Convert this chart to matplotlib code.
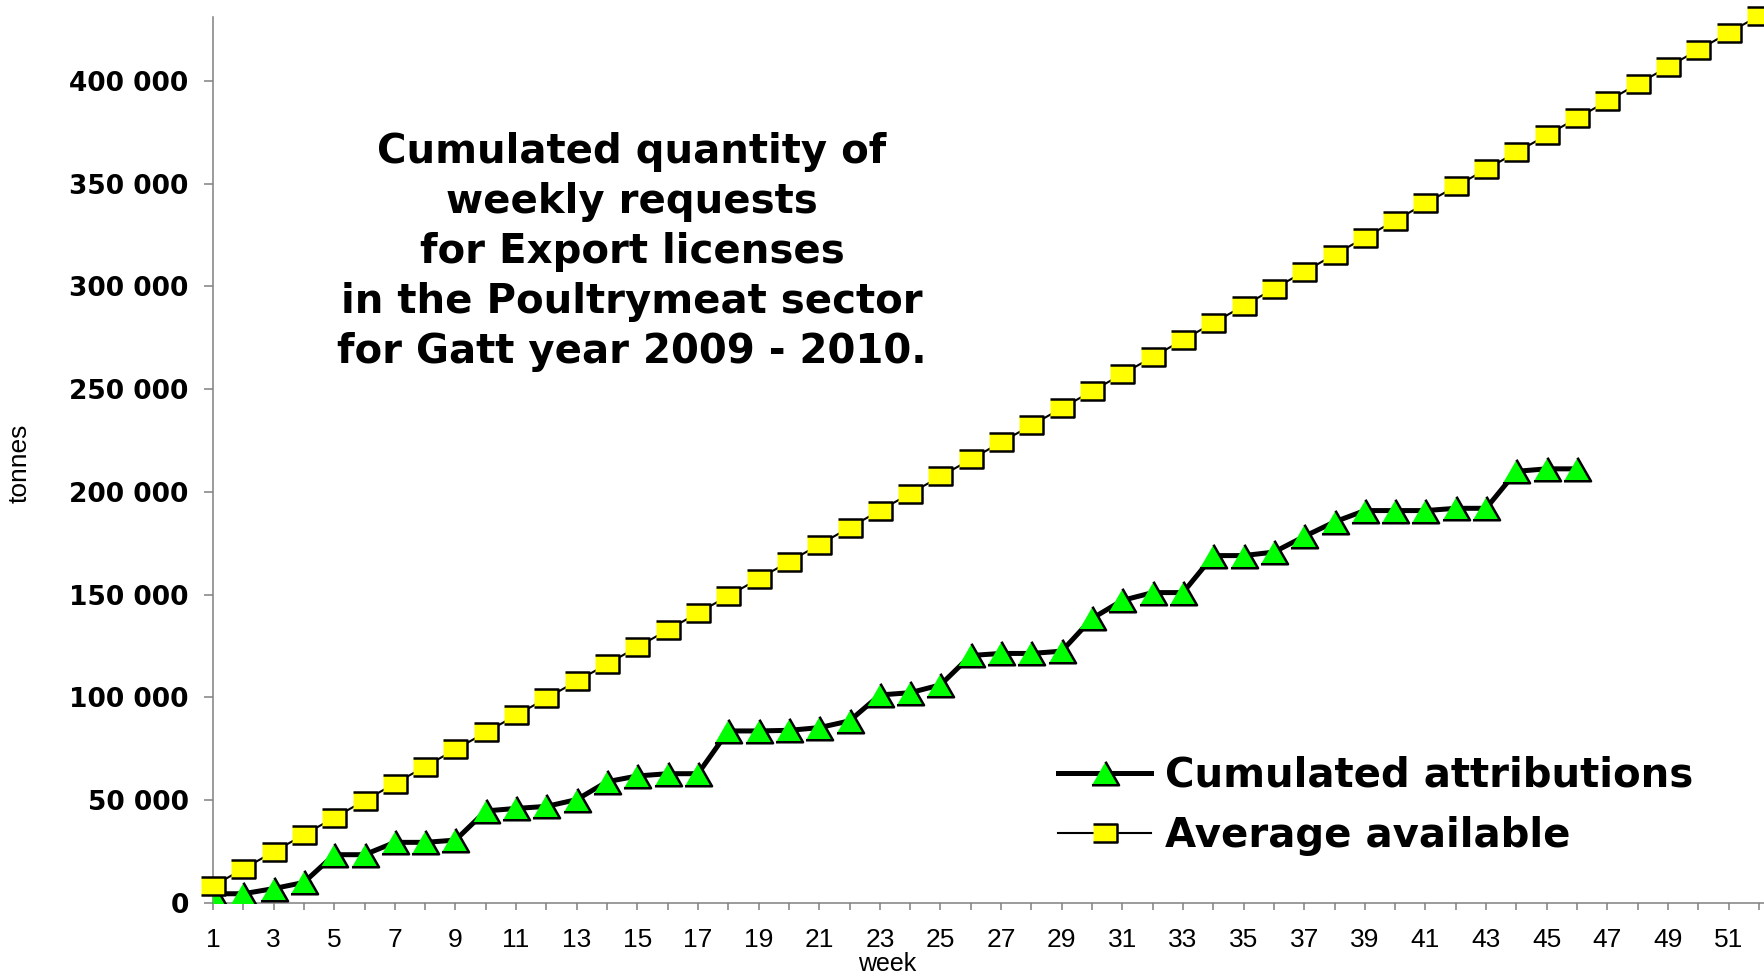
import matplotlib
matplotlib.use("Agg")
import matplotlib.pyplot as plt

weeks = list(range(1, 53))

# cumulated attributions (tonnes), weeks 1-46
attributions = [4500, 4500, 7000, 10000, 23500, 23500, 29500, 29500, 30600, 44800,
                46000, 47000, 50300, 59000, 61800, 62900, 62900, 83700, 83700, 84000,
                85300, 88600, 101200, 102300, 106100, 120400, 121400, 121400, 122500, 138400,
                147200, 151000, 151000, 169000, 169000, 170700, 178300, 185400, 190900, 190900,
                190900, 192000, 192000, 210000, 211200, 211200]

# average available (tonnes), weeks 1-52
available = [8300, 16600, 24900, 33200, 41500, 49800, 58100, 66400, 74700, 83000,
             91300, 99600, 107900, 116200, 124500, 132800, 141100, 149400, 157700, 166000,
             174300, 182600, 190900, 199200, 207500, 215800, 224100, 232400, 240700, 249000,
             257300, 265600, 273900, 282200, 290500, 298800, 307100, 315400, 323700, 332000,
             340300, 348600, 356900, 365200, 373500, 381800, 390100, 398400, 406700, 415000,
             423300, 431600]

y_ticks = [0, 50000, 100000, 150000, 200000, 250000, 300000, 350000, 400000]
y_labels = ["0", "50 000", "100 000", "150 000", "200 000", "250 000",
            "300 000", "350 000", "400 000"]
x_labels = [str(w) if w % 2 == 1 else "" for w in weeks]

title = ("Cumulated quantity of\nweekly requests\nfor Export licenses\n"
         "in the Poultrymeat sector\nfor Gatt year 2009 - 2010.")

tri = [(-1.15, -1), (1.15, -1), (0, 1)]
rect = [(-1.35, -1), (1.35, -1), (1.35, 1), (-1.35, 1)]

fig = plt.figure(figsize=(17.65, 9.74), dpi=100)
ax = fig.add_axes([213 / 1765, 1 - 903 / 974, 1552 / 1765, 886 / 974])

ax.plot(weeks[:len(attributions)], attributions, color="black", lw=3.6,
        marker=tri, ms=19.5, mfc="#00FF00", mec="black", mew=1.8,
        label="Cumulated attributions", zorder=3)
ax.plot(weeks, available, color="black", lw=1.5,
        marker=rect, ms=17.5, mfc="#FFFF00", mec="black", mew=1.8,
        label="Average available", zorder=4, clip_on=False)

ax.set_xlim(1, 52.2)
ax.set_ylim(0, 431000)

for s in ["top", "right"]:
    ax.spines[s].set_visible(False)
for s in ["left", "bottom"]:
    ax.spines[s].set_color("#808080")
    ax.spines[s].set_linewidth(1.1)

ax.set_yticks(y_ticks)
ax.set_yticklabels(y_labels, fontfamily="DejaVu Sans", fontweight="bold", fontsize=19)
ax.tick_params(axis="y", direction="out", length=6.5, width=1.1, color="#808080", pad=11)

ax.set_xticks(weeks)
ax.set_xticklabels(x_labels, fontfamily="Liberation Sans", fontsize=19)
ax.tick_params(axis="x", direction="out", length=5, width=1.1, color="#808080", pad=13)

fig.text(632 / 1765, 1 - 252 / 974, title, ha="center", va="center",
         multialignment="center", fontfamily="DejaVu Sans", fontweight="bold",
         fontsize=29, linespacing=1.33)

fig.text(20 / 1765, 1 - 463 / 974, "tonnes", rotation=90, ha="center", va="center",
         fontfamily="Liberation Sans", fontsize=19)
fig.text(887 / 1765, 1 - 964 / 974, "week", ha="center", va="center",
         fontfamily="Liberation Sans", fontsize=18)

ax.legend(loc="center left", bbox_to_anchor=(0.579, 0.1725), bbox_transform=fig.transFigure,
          frameon=False, handlelength=2.3, handletextpad=0.35, labelspacing=0.5,
          prop={"family": "DejaVu Sans", "weight": "bold", "size": 29})

fig.savefig("out.png", dpi=100)
